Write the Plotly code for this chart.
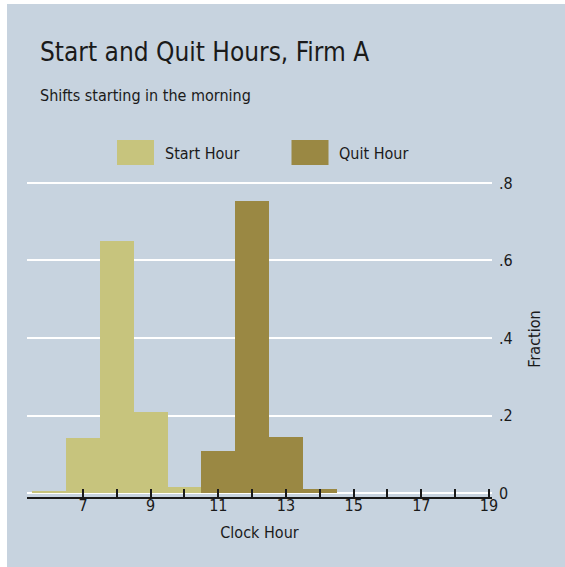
import plotly.graph_objects as go

# ---- data ----
start_hours = [6, 7, 8, 9, 10]
start_frac = [0.006, 0.142, 0.650, 0.208, 0.017]
quit_hours = [11, 12, 13, 14]
quit_frac = [0.108, 0.753, 0.146, 0.010]

x_tickvals = list(range(7, 20))
x_ticktext = [str(v) if v % 2 == 1 else "" for v in x_tickvals]
y_tickvals = [0, 0.2, 0.4, 0.6, 0.8]
y_ticktext = ["0", ".2", ".4", ".6", ".8"]

title_text = "Start and Quit Hours, Firm A"
subtitle_text = "Shifts starting in the morning"
series_names = ["Start Hour", "Quit Hour"]

# ---- style ----
BG = "#C7D3DF"
C_START = "#C7C47D"
C_QUIT = "#9A8843"
FONT = "Liberation Sans Narrow, DejaVu Sans Condensed, Arial Narrow, sans-serif"

W, H = 565, 567
L, R, T, B = 27, 73, 181, 70
PW, PH = W - L - R, H - T - B


def px(x):
    return (x - L) / PW


def py(y):
    return (H - B - y) / PH


fig = go.Figure()
fig.add_trace(go.Bar(x=start_hours, y=start_frac, width=1, name=series_names[0],
                     marker=dict(color=C_START, line=dict(width=0)), showlegend=False))
fig.add_trace(go.Bar(x=quit_hours, y=quit_frac, width=1, name=series_names[1],
                     marker=dict(color=C_QUIT, line=dict(width=0)), showlegend=False))

shapes = [
    dict(type="rect", xref="paper", yref="paper", x0=px(7), x1=px(W + 5),
         y0=py(H + 5), y1=py(4), fillcolor=BG, line=dict(width=0), layer="below"),
    dict(type="rect", xref="paper", yref="paper", x0=px(117), x1=px(154),
         y0=py(165), y1=py(140), fillcolor=C_START, line=dict(width=0)),
    dict(type="rect", xref="paper", yref="paper", x0=px(291.5), x1=px(328.5),
         y0=py(165), y1=py(140), fillcolor=C_QUIT, line=dict(width=0)),
]

annotations = [
    dict(text=title_text, xref="paper", yref="paper", x=px(38), y=py(52),
         xanchor="left", yanchor="middle", showarrow=False,
         font=dict(size=26, color="#1a1a1a", family=FONT)),
    dict(text=subtitle_text, xref="paper", yref="paper", x=px(38), y=py(96),
         xanchor="left", yanchor="middle", showarrow=False,
         font=dict(size=16, color="#1a1a1a", family=FONT)),
    dict(text=series_names[0], xref="paper", yref="paper", x=px(163), y=py(153),
         xanchor="left", yanchor="middle", showarrow=False,
         font=dict(size=16, color="#1a1a1a", family=FONT)),
    dict(text=series_names[1], xref="paper", yref="paper", x=px(337), y=py(153),
         xanchor="left", yanchor="middle", showarrow=False,
         font=dict(size=16, color="#1a1a1a", family=FONT)),
]

fig.update_layout(
    width=W, height=H,
    margin=dict(l=L, r=R, t=T, b=B, pad=0),
    paper_bgcolor="white",
    plot_bgcolor=BG,
    barmode="overlay",
    bargap=0,
    font=dict(family=FONT, size=16, color="#1a1a1a"),
    shapes=shapes,
    annotations=annotations,
    xaxis=dict(
        range=[5.345, 19.09],
        tickmode="array", tickvals=x_tickvals, ticktext=x_ticktext,
        ticks="inside", ticklen=8, tickwidth=1.5, tickcolor="#1a1a1a",
        showline=True, linecolor="#1a1a1a", linewidth=1.5,
        showgrid=False, zeroline=False,
        ticklabelstandoff=-7,
        title=dict(text="Clock Hour", font=dict(size=16), standoff=13),
        tickfont=dict(size=16),
    ),
    yaxis=dict(
        side="right",
        range=[-0.01, 0.805],
        tickmode="array", tickvals=y_tickvals, ticktext=y_ticktext,
        ticks="", showline=False, zeroline=False,
        showgrid=True, gridcolor="white", gridwidth=1.5,
        ticklabelstandoff=6,
        title=dict(text="Fraction", font=dict(size=16), standoff=17),
        tickfont=dict(size=16),
    ),
)

fig.write_html("out.html",
               config={"displayModeBar": False},
               post_script="document.body.style.margin='0px';document.body.style.padding='0px';")
